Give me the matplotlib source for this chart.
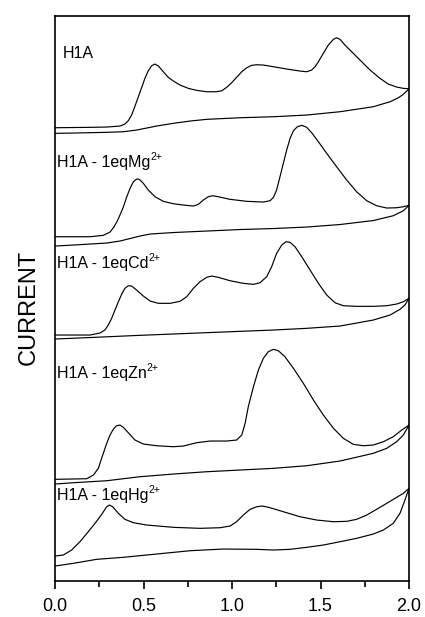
import matplotlib
matplotlib.use('Agg')
import numpy as np
import matplotlib.pyplot as plt

plt.rcParams['font.family'] = ['Liberation Sans', 'DejaVu Sans']

# potential (V) / current (arb. units), forward and reverse scans
h1a_fwd_x = [0.00, 0.198, 0.292, 0.367, 0.395, 0.414, 0.433, 0.452, 0.471, 0.490, 0.508, 0.527,
             0.546, 0.565, 0.584, 0.612, 0.640, 0.669, 0.706, 0.753, 0.800, 0.857, 0.913, 0.942,
             0.970, 0.998, 1.026, 1.055, 1.083, 1.111, 1.139, 1.177, 1.234, 1.309, 1.384, 1.422,
             1.450, 1.469, 1.488, 1.516, 1.544, 1.573, 1.591, 1.610, 1.638, 1.676, 1.723, 1.780,
             1.836, 1.883, 1.930, 1.968, 2.00]
h1a_fwd_y = [453.3, 453.7, 454, 455, 457, 460.3, 466, 475, 484.3, 493.7, 502.7, 510.3,
             515.3, 517, 515, 509.3, 503.7, 500, 496, 492.7, 490.7, 489.3, 489.3, 490.3,
             493.7, 498.3, 503.7, 509.3, 513.3, 515.7, 516.3, 516, 514.3, 512, 510, 509.3,
             511, 514.3, 519.3, 527.7, 536, 541.7, 543.3, 541.7, 536, 529.3, 521, 511,
             502.7, 497, 494, 492.7, 492.3]
h1a_rev_x = [2.00, 1.968, 1.940, 1.893, 1.798, 1.610, 1.422, 1.234, 1.045, 0.857, 0.763, 0.669,
             0.574, 0.518, 0.461, 0.386, 0.292, 0.104, 0.00]
h1a_rev_y = [492.3, 486.7, 483.3, 479.3, 474.3, 469.3, 466, 464.3, 463.3, 461.7, 460, 457.7,
             455, 453, 451, 449.3, 448.7, 448, 447.7]

mg_fwd_x = [0.00, 0.198, 0.273, 0.311, 0.333, 0.352, 0.367, 0.386, 0.405, 0.424, 0.443, 0.461,
            0.476, 0.499, 0.527, 0.565, 0.612, 0.669, 0.725, 0.782, 0.810, 0.838, 0.866, 0.891,
            0.923, 0.989, 1.083, 1.177, 1.215, 1.234, 1.252, 1.271, 1.290, 1.309, 1.328, 1.347,
            1.369, 1.394, 1.422, 1.450, 1.488, 1.535, 1.591, 1.648, 1.704, 1.761, 1.817, 1.874,
            1.930, 1.968, 2.00]
mg_fwd_y = [344.3, 344.3, 345.7, 349, 354, 360, 366, 374, 384, 392.7, 399.3, 402,
            401.7, 397.7, 391, 384.3, 379.7, 377.3, 376, 375, 376.7, 381, 384.3, 385.3,
            384.3, 381.7, 379.7, 379, 380.3, 383.7, 391, 404.3, 417.7, 431, 442.7, 450.3,
            454.3, 455.7, 453.7, 448.3, 439.3, 427.7, 414.3, 401, 389.3, 380.3, 375.3, 373,
            373.3, 374.3, 375.7]
mg_rev_x = [2.00, 1.968, 1.911, 1.798, 1.610, 1.422, 1.234, 1.045, 0.857, 0.669, 0.537, 0.480,
            0.424, 0.367, 0.292, 0.104, 0.00]
mg_rev_y = [375.7, 370.3, 365.3, 360.5, 356.5, 354, 352.5, 351.5, 350, 348.5, 347, 345,
            342.5, 340, 338, 336, 335]

cd_fwd_x = [0.00, 0.198, 0.254, 0.282, 0.301, 0.320, 0.339, 0.358, 0.377, 0.395, 0.414, 0.433,
            0.461, 0.499, 0.537, 0.584, 0.650, 0.706, 0.744, 0.782, 0.819, 0.857, 0.885, 0.923,
            0.989, 1.064, 1.121, 1.158, 1.196, 1.224, 1.252, 1.281, 1.305, 1.328, 1.356, 1.394,
            1.441, 1.488, 1.535, 1.582, 1.629, 1.704, 1.798, 1.874, 1.930, 1.968, 2.00]
cd_fwd_y = [246, 246, 248, 251, 256, 262.7, 271, 279.3, 287, 292.7, 295.3, 295,
            291, 285, 280, 277.7, 277.7, 279.7, 284.3, 292.7, 299.3, 303.7, 305, 303.7,
            300.3, 297.7, 296.7, 298.3, 304.3, 314.3, 327.7, 336, 339.3, 338.7, 334.3, 324.3,
            311, 297.7, 286, 278.3, 275.3, 274.7, 274.7, 275.3, 277, 279.3, 282.7]
cd_rev_x = [2.00, 1.977, 1.949, 1.893, 1.798, 1.610, 1.422, 1.234, 1.045, 0.763, 0.480, 0.198, 0.00]
cd_rev_y = [282.7, 276, 271.7, 266, 261, 255, 252.7, 251, 249.7, 247.7, 245.7, 243.5, 242]

zn_fwd_x = [0.00, 0.179, 0.217, 0.245, 0.254, 0.273, 0.292, 0.311, 0.330, 0.348, 0.367, 0.386,
            0.414, 0.452, 0.499, 0.574, 0.669, 0.725, 0.800, 0.876, 0.970, 1.026, 1.055, 1.074,
            1.092, 1.121, 1.149, 1.177, 1.205, 1.234, 1.262, 1.299, 1.347, 1.403, 1.460, 1.516,
            1.573, 1.629, 1.685, 1.742, 1.798, 1.855, 1.911, 1.959, 2.00]
zn_fwd_y = [101.7, 102.3, 106, 112.7, 117.7, 127.7, 137.7, 146, 152, 155.3, 156, 153.7,
            148.3, 141, 137, 135.3, 134.3, 135, 138.3, 140, 140, 141, 146, 157.7,
            174.3, 194.3, 211, 222.7, 229.3, 231.7, 230.3, 224.3, 212.7, 197.7, 181, 166,
            152.7, 142.7, 136.7, 135.3, 136, 139.3, 144.3, 151, 156]
zn_rev_x = [2.00, 1.968, 1.930, 1.874, 1.798, 1.610, 1.422, 1.234, 1.045, 0.857, 0.669, 0.480,
            0.292, 0.104, 0.00]
zn_rev_y = [156, 146, 139.3, 132.7, 127.7, 120, 115.3, 112.7, 111, 109.3, 107, 104.3,
            100.3, 98.3, 97]

hg_fwd_x = [0.00, 0.047, 0.094, 0.141, 0.188, 0.226, 0.264, 0.292, 0.307, 0.326, 0.358, 0.395,
            0.443, 0.518, 0.669, 0.819, 0.932, 0.989, 1.026, 1.064, 1.102, 1.139, 1.173, 1.215,
            1.290, 1.384, 1.478, 1.573, 1.648, 1.704, 1.761, 1.817, 1.874, 1.930, 1.968, 2.00]
hg_fwd_y = [25, 26, 31, 39.3, 49.3, 57.7, 66.7, 74.3, 76, 74.3, 67.7, 61.7,
            58.3, 56, 53.7, 52.7, 53.3, 55, 59.3, 66, 71.7, 74.3, 75, 73.3,
            69.3, 64.3, 61, 59.3, 59.7, 61.7, 66, 71.7, 77.7, 83.7, 87.7, 92.7]
hg_rev_x = [2.00, 1.977, 1.949, 1.911, 1.855, 1.798, 1.704, 1.610, 1.516, 1.422, 1.328, 1.234,
            1.139, 0.951, 0.763, 0.574, 0.386, 0.235, 0.104, 0.00]
hg_rev_y = [92.7, 81, 67.7, 57.7, 51, 47, 42.7, 39.3, 36, 33.7, 31.7, 31,
            31.7, 32, 30.3, 27, 23.7, 21.7, 17.7, 15]

labels = ['H1A', 'H1A - 1eqMg', 'H1A - 1eqCd', 'H1A - 1eqZn', 'H1A - 1eqHg']
charges = ['', '2+', '2+', '2+', '2+']
label_x = [0.044, 0.013, 0.013, 0.013, 0.013]
label_y = [528, 419, 318, 208, 86]

curves = [
    (h1a_fwd_x, h1a_fwd_y, h1a_rev_x, h1a_rev_y),
    (mg_fwd_x, mg_fwd_y, mg_rev_x, mg_rev_y),
    (cd_fwd_x, cd_fwd_y, cd_rev_x, cd_rev_y),
    (zn_fwd_x, zn_fwd_y, zn_rev_x, zn_rev_y),
    (hg_fwd_x, hg_fwd_y, hg_rev_x, hg_rev_y),
]

fig = plt.figure(figsize=(4.25, 6.17), dpi=100)
ax = fig.add_axes([0.1294, 0.0583, 0.833, 0.9157])

for (fx, fy, rx, ry), lab, ch, lx, ly in zip(curves, labels, charges, label_x, label_y):
    ax.plot(fx, fy, color='black', lw=0.85)
    ax.plot(rx, ry, color='black', lw=0.85)
    t = ax.text(lx, ly, lab, fontsize=11.5, va='center', ha='left')
    if ch:
        ax.annotate(ch, xy=(1, 1), xycoords=t, xytext=(-0.3, 1.5), textcoords='offset points',
                    fontsize=7.5, ha='left', va='top')

ax.set_xlim(0, 2.0)
ax.set_ylim(0, 565)
ax.set_xticks([0.0, 0.5, 1.0, 1.5, 2.0])
ax.set_xticklabels(['0.0', '0.5', '1.0', '1.5', '2.0'])
ax.set_xticks([0.25, 0.75, 1.25, 1.75], minor=True)
ax.set_yticks([])
ax.tick_params(axis='x', which='major', direction='out', length=6, width=1.2, labelsize=13, pad=6)
ax.tick_params(axis='x', which='minor', direction='out', length=4, width=1.2)
for s in ax.spines.values():
    s.set_linewidth(1.2)
ax.set_ylabel('CURRENT', fontsize=17)
ax.yaxis.set_label_coords(-0.042, 0.485)

fig.savefig('out.png', dpi=100)
